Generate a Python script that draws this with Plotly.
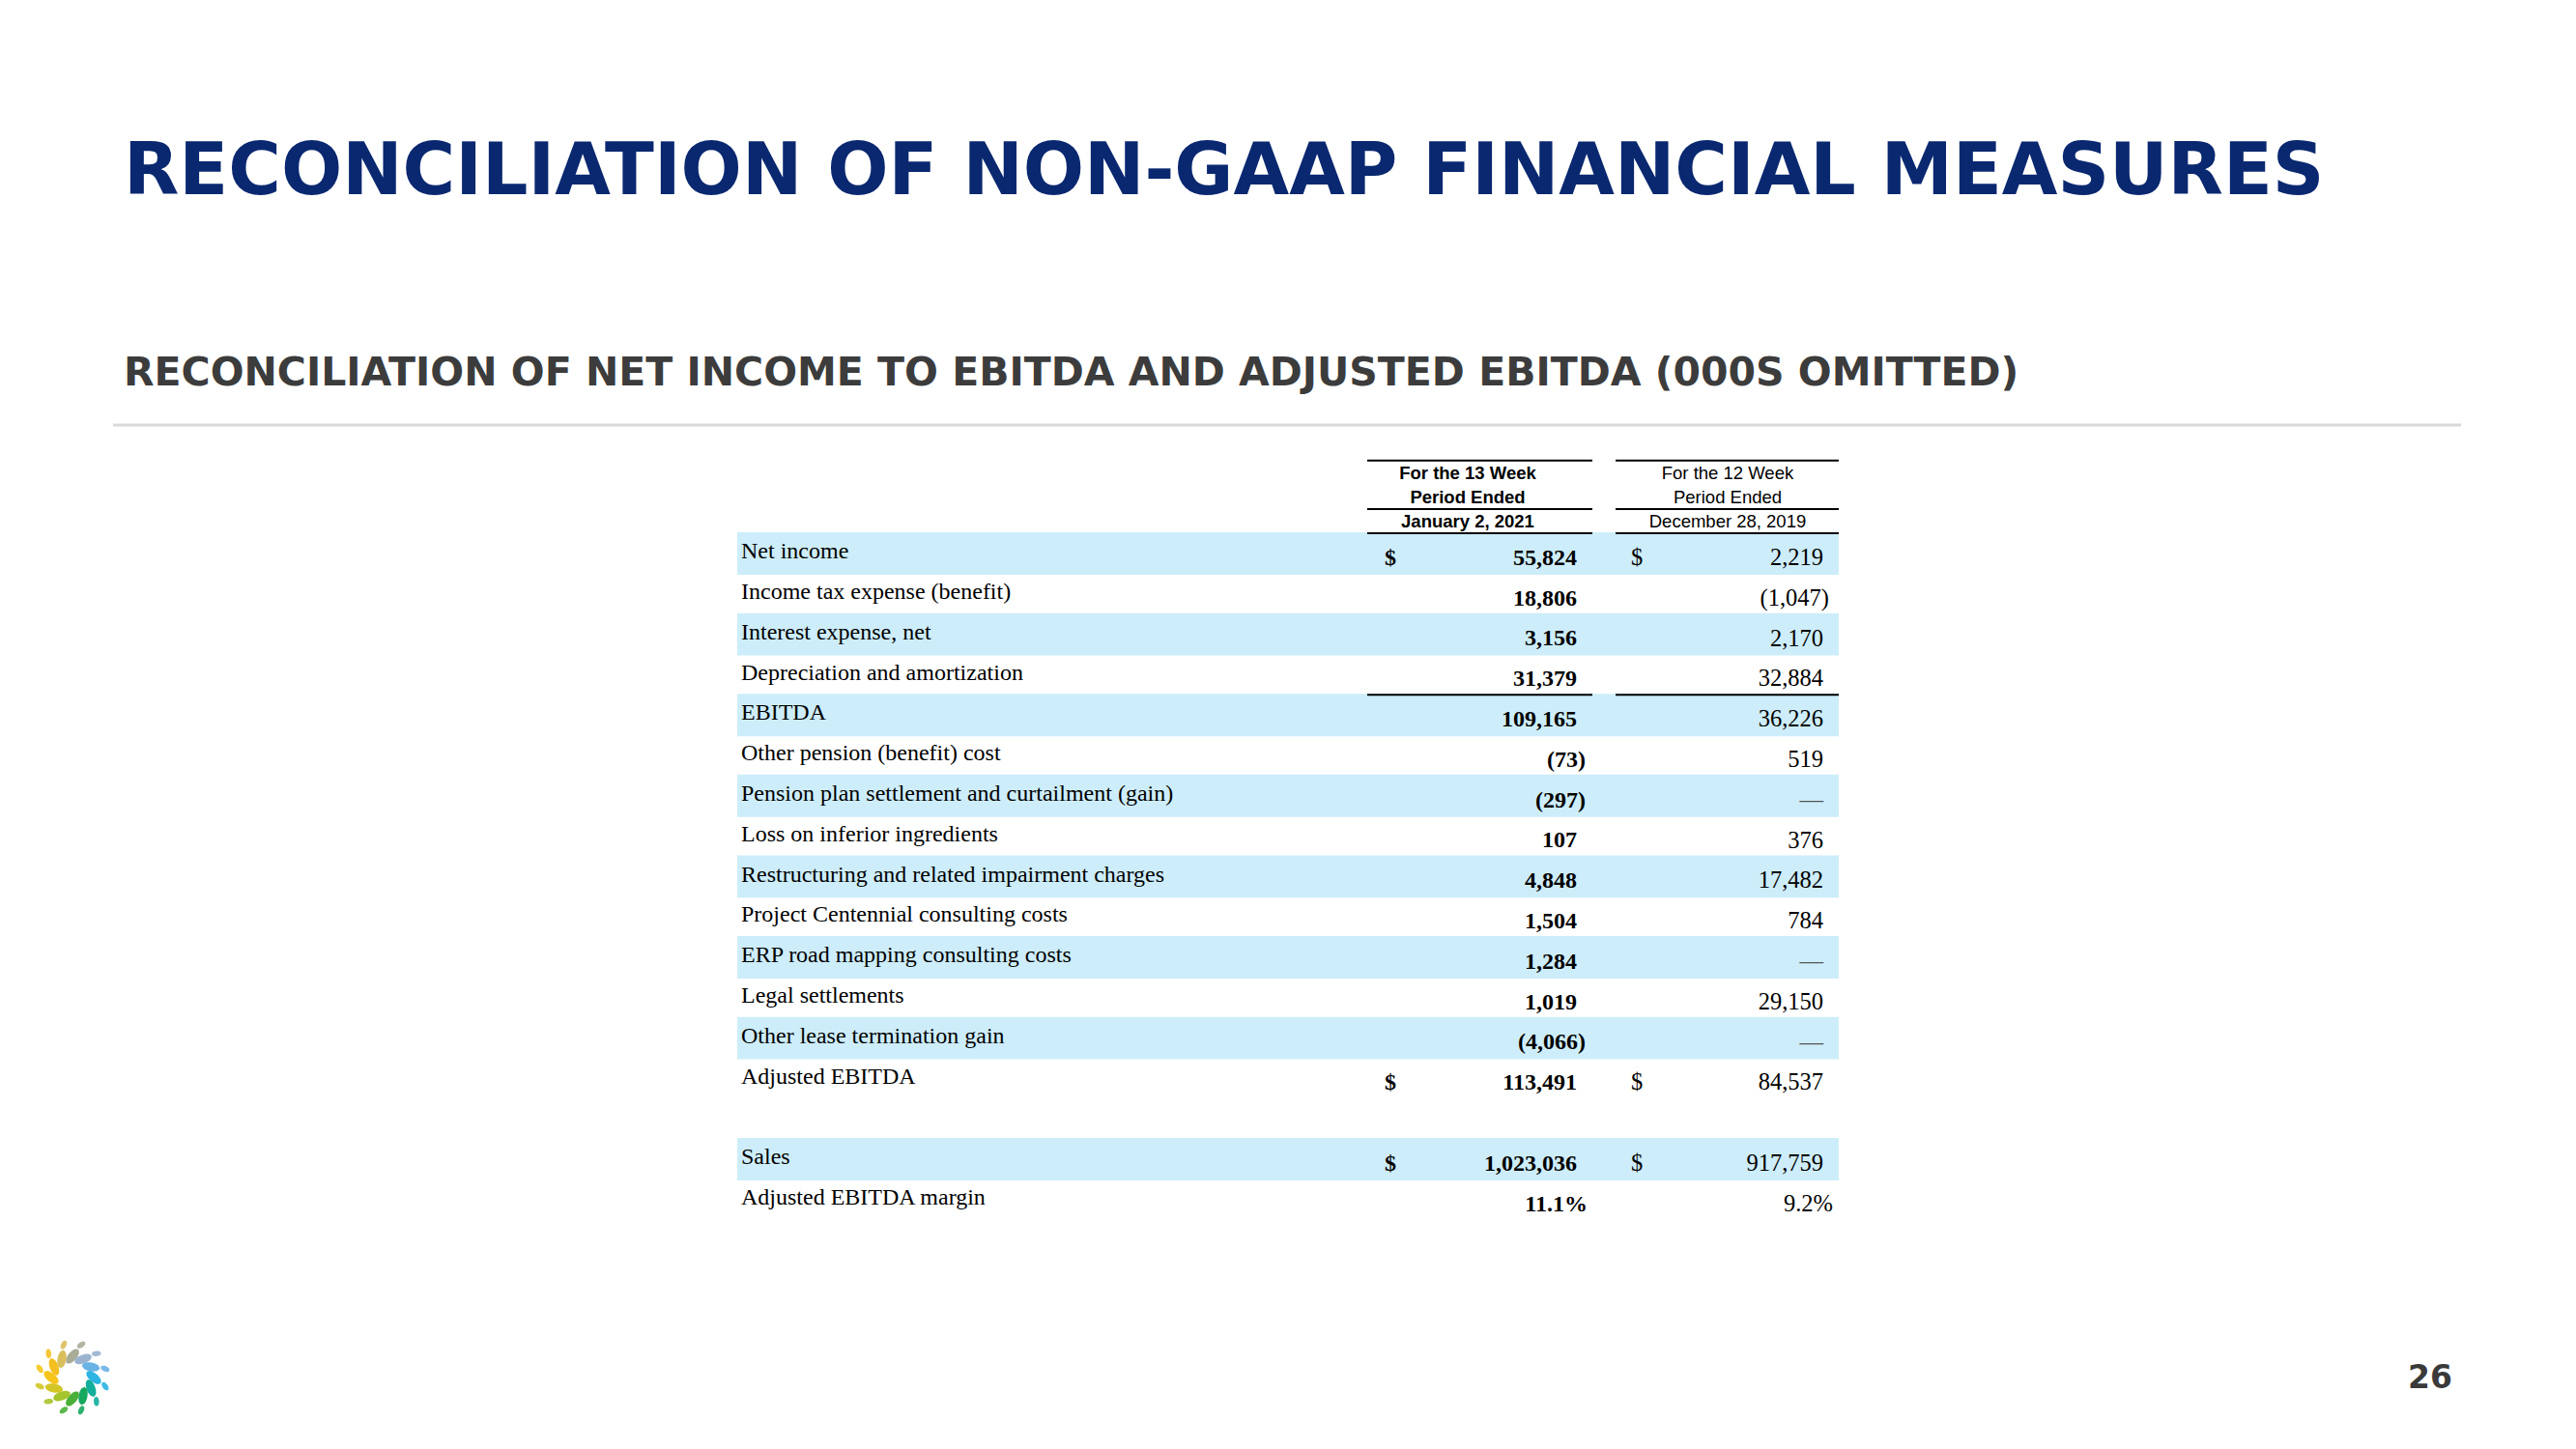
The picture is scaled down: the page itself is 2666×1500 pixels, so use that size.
import numpy as np
import plotly.graph_objects as go

W, H = 2666, 1500

# ---------------- data ----------------
title_text = "RECONCILIATION OF NON-GAAP FINANCIAL MEASURES"
subtitle_text = "RECONCILIATION OF NET INCOME TO EBITDA AND ADJUSTED EBITDA (000S OMITTED)"
page_number = "26"

col1_header = ["For the 13 Week", "Period Ended", "January 2, 2021"]
col2_header = ["For the 12 Week", "Period Ended", "December 28, 2019"]

row_labels = [
    "Net income",
    "Income tax expense (benefit)",
    "Interest expense, net",
    "Depreciation and amortization",
    "EBITDA",
    "Other pension (benefit) cost",
    "Pension plan settlement and curtailment (gain)",
    "Loss on inferior ingredients",
    "Restructuring and related impairment charges",
    "Project Centennial consulting costs",
    "ERP road mapping consulting costs",
    "Legal settlements",
    "Other lease termination gain",
    "Adjusted EBITDA",
    "Sales",
    "Adjusted EBITDA margin",
]
col1_values = [55824, 18806, 3156, 31379, 109165, -73, -297, 107, 4848,
               1504, 1284, 1019, -4066, 113491, 1023036, 11.1]
col2_values = [2219, -1047, 2170, 32884, 36226, 519, None, 376, 17482,
               784, None, 29150, None, 84537, 917759, 9.2]
percent_rows = ["Adjusted EBITDA margin"]
dollar_rows = ["Net income", "Adjusted EBITDA", "Sales"]
shaded_rows = ["Net income", "Interest expense, net", "EBITDA",
               "Pension plan settlement and curtailment (gain)",
               "Restructuring and related impairment charges",
               "ERP road mapping consulting costs",
               "Other lease termination gain", "Sales"]
ruled_above_rows = ["EBITDA"]
gap_after_row = "Adjusted EBITDA"

# ---------------- layout constants (pixels) ----------------
ROW0_PX, PITCH = 573.0, 41.8
LABEL_X = 767
TABLE_L, TABLE_R = 763, 1903
COL1_L, COL1_R = 1415, 1648
COL2_L, COL2_R = 1672, 1903
DOLLAR1_X, DOLLAR2_X = 1433, 1688
VAL1_R, VAL2_R = 1632, 1887
HEAD1_C, HEAD2_C = 1519, 1788
BAND = "#cdedfa"
SERIF = "Liberation Serif, Times New Roman, serif"
SANS = "Liberation Sans, Arial, sans-serif"
TITLE_FONT = "DejaVu Sans, Verdana, sans-serif"


def fmt(v, pct=False):
    if v is None:
        return "\u2014"
    if pct:
        return f"{v:.1f}%"
    s = f"{abs(v):,}"
    return f"({s})" if v < 0 else s


# row positions (row units), with one blank row after Adjusted EBITDA
pos = []
p = 0
for lab in row_labels:
    pos.append(p)
    p += 2 if lab == gap_after_row else 1
pos = np.array(pos, dtype=float)

col1_text = [fmt(v, lab in percent_rows) for v, lab in zip(col1_values, row_labels)]
col2_text = [fmt(v, lab in percent_rows) for v, lab in zip(col2_values, row_labels)]


def hang(t, par, pct):
    if t.endswith(")"):
        return par
    if t.endswith("%"):
        return pct
    return 0


col1_x = [VAL1_R + hang(t, 9, 11) for t in col1_text]
col2_x = [VAL2_R + hang(t, 6, 10) for t in col2_text]

LABEL_DY = -0.02
VALUE_DY = 0.14

fig = go.Figure()

# row labels
fig.add_trace(go.Scatter(
    x=[LABEL_X] * len(row_labels), y=pos + LABEL_DY, text=row_labels,
    mode="text", textposition="middle right",
    textfont=dict(family=SERIF, size=24, color="#000000"),
    hoverinfo="skip", showlegend=False))

# column 1 values (bold)
fig.add_trace(go.Scatter(
    x=col1_x, y=pos + VALUE_DY, text=col1_text,
    mode="text", textposition="middle left",
    textfont=dict(family=SERIF, size=24, color="#000000", weight="bold"),
    hoverinfo="skip", showlegend=False))

# column 2 values
c2_colors = ["#555555" if v is None else "#000000" for v in col2_values]
fig.add_trace(go.Scatter(
    x=col2_x, y=pos + VALUE_DY, text=col2_text,
    mode="text", textposition="middle left",
    textfont=dict(family=SERIF, size=24.5, color=c2_colors),
    hoverinfo="skip", showlegend=False))

# dollar signs
dpos = np.array([pp for pp, lab in zip(pos, row_labels) if lab in dollar_rows])
fig.add_trace(go.Scatter(
    x=[DOLLAR1_X] * len(dpos), y=dpos + VALUE_DY, text=["$"] * len(dpos),
    mode="text", textposition="middle right",
    textfont=dict(family=SERIF, size=24, color="#000000", weight="bold"),
    hoverinfo="skip", showlegend=False))
fig.add_trace(go.Scatter(
    x=[DOLLAR2_X] * len(dpos), y=dpos + VALUE_DY, text=["$"] * len(dpos),
    mode="text", textposition="middle right",
    textfont=dict(family=SERIF, size=24.5, color="#000000"),
    hoverinfo="skip", showlegend=False))

# column headers
head_y = np.array([-1.95, -1.352, -0.754])
fig.add_trace(go.Scatter(
    x=[HEAD1_C] * 3, y=head_y, text=col1_header, mode="text",
    textposition="middle center",
    textfont=dict(family=SANS, size=18.5, color="#000000", weight="bold"),
    hoverinfo="skip", showlegend=False))
fig.add_trace(go.Scatter(
    x=[HEAD2_C] * 3, y=head_y, text=col2_header, mode="text",
    textposition="middle center",
    textfont=dict(family=SANS, size=18.5, color="#000000"),
    hoverinfo="skip", showlegend=False))

shapes = []
# shaded bands
for pp, lab in zip(pos, row_labels):
    if lab in shaded_rows:
        shapes.append(dict(type="rect", xref="x", yref="y", x0=TABLE_L, x1=TABLE_R,
                           y0=pp - 0.525, y1=pp + 0.525, fillcolor=BAND,
                           line=dict(width=0), layer="below"))

# header rules
for yy in [-2.3, -1.1, -0.5]:
    for (a, b) in [(COL1_L, COL1_R), (COL2_L, COL2_R)]:
        shapes.append(dict(type="line", xref="x", yref="y", x0=a, x1=b, y0=yy, y1=yy,
                           line=dict(color="#000000", width=2)))
# rule above subtotal rows
for pp, lab in zip(pos, row_labels):
    if lab in ruled_above_rows:
        for (a, b) in [(COL1_L, COL1_R), (COL2_L, COL2_R)]:
            shapes.append(dict(type="line", xref="x", yref="y", x0=a, x1=b,
                               y0=pp - 0.5, y1=pp - 0.5,
                               line=dict(color="#000000", width=2)))

# grey separator under subtitle
shapes.append(dict(type="line", xref="paper", yref="paper",
                   x0=117 / W, x1=2547 / W, y0=1 - 440 / H, y1=1 - 440 / H,
                   line=dict(color="#d9d9d9", width=3)))

# ---------------- logo (decorative) ----------------
LOGO_CX, LOGO_CY = 75, 1426
inner_colors = ["#a9ad98", "#9ab3cf", "#6ab3e6", "#2cb4e2", "#13ae9c", "#17a85e",
                "#4aaf38", "#a6c42b", "#d2c626", "#f6c51c", "#f4c021", "#d9bf5c"]


def leaf_path(cx, cy, length, width, ang):
    t = np.linspace(-1, 1, 11)
    half = width / 2 * np.sqrt(1 - t ** 2)
    xs = np.concatenate([t, t[::-1]]) * length / 2
    ys = np.concatenate([half, -half[::-1]])
    ca, sa = np.cos(ang), np.sin(ang)
    px = cx + xs * ca - ys * sa
    py = cy + xs * sa + ys * ca
    pts = [f"{x / W:.6f},{1 - y / H:.6f}" for x, y in zip(px, py)]
    return "M" + " L".join(pts) + " Z"


for k, col in enumerate(inner_colors):
    th = np.deg2rad(k * 30)
    for r, L, Wd, off, op in [(22, 19, 9, 0, 1.0), (35, 10, 5.5, 15, 0.9)]:
        th2 = th + np.deg2rad(off)
        cx = LOGO_CX + r * np.sin(th2)
        cy = LOGO_CY - r * np.cos(th2)
        radial = np.arctan2(cy - LOGO_CY, cx - LOGO_CX)
        shapes.append(dict(type="path", xref="paper", yref="paper",
                           path=leaf_path(cx, cy, L, Wd, radial + np.deg2rad(40)),
                           fillcolor=col, opacity=op, line=dict(width=0)))

annotations = [
    dict(text=f"<b>{title_text}</b>", xref="paper", yref="paper",
         x=126 / W, y=1 - 176 / H, xanchor="left", yanchor="middle", showarrow=False,
         font=dict(family=TITLE_FONT, size=74.5, color="#0a2870", weight="bold")),
    dict(text=f"<b>{subtitle_text}</b>", xref="paper", yref="paper",
         x=126 / W, y=1 - 385 / H, xanchor="left", yanchor="middle", showarrow=False,
         font=dict(family=TITLE_FONT, size=41, color="#3c3c3c", weight="bold")),
    dict(text=f"<b>{page_number}</b>", xref="paper", yref="paper",
         x=2540 / W, y=1 - 1425 / H, xanchor="right", yanchor="middle", showarrow=False,
         font=dict(family=TITLE_FONT, size=33, color="#3a3a3a", weight="bold")),
]

fig.update_layout(
    width=W, height=H,
    margin=dict(l=0, r=0, t=0, b=0),
    paper_bgcolor="#ffffff", plot_bgcolor="#ffffff",
    xaxis=dict(range=[0, W], visible=False, fixedrange=True),
    yaxis=dict(range=[(H - ROW0_PX) / PITCH, -ROW0_PX / PITCH], visible=False, fixedrange=True),
    shapes=shapes, annotations=annotations, showlegend=False,
)

fig.write_html("out.html", config={"displayModeBar": False},
               post_script="document.body.style.margin='0';document.body.style.overflow='hidden';")
